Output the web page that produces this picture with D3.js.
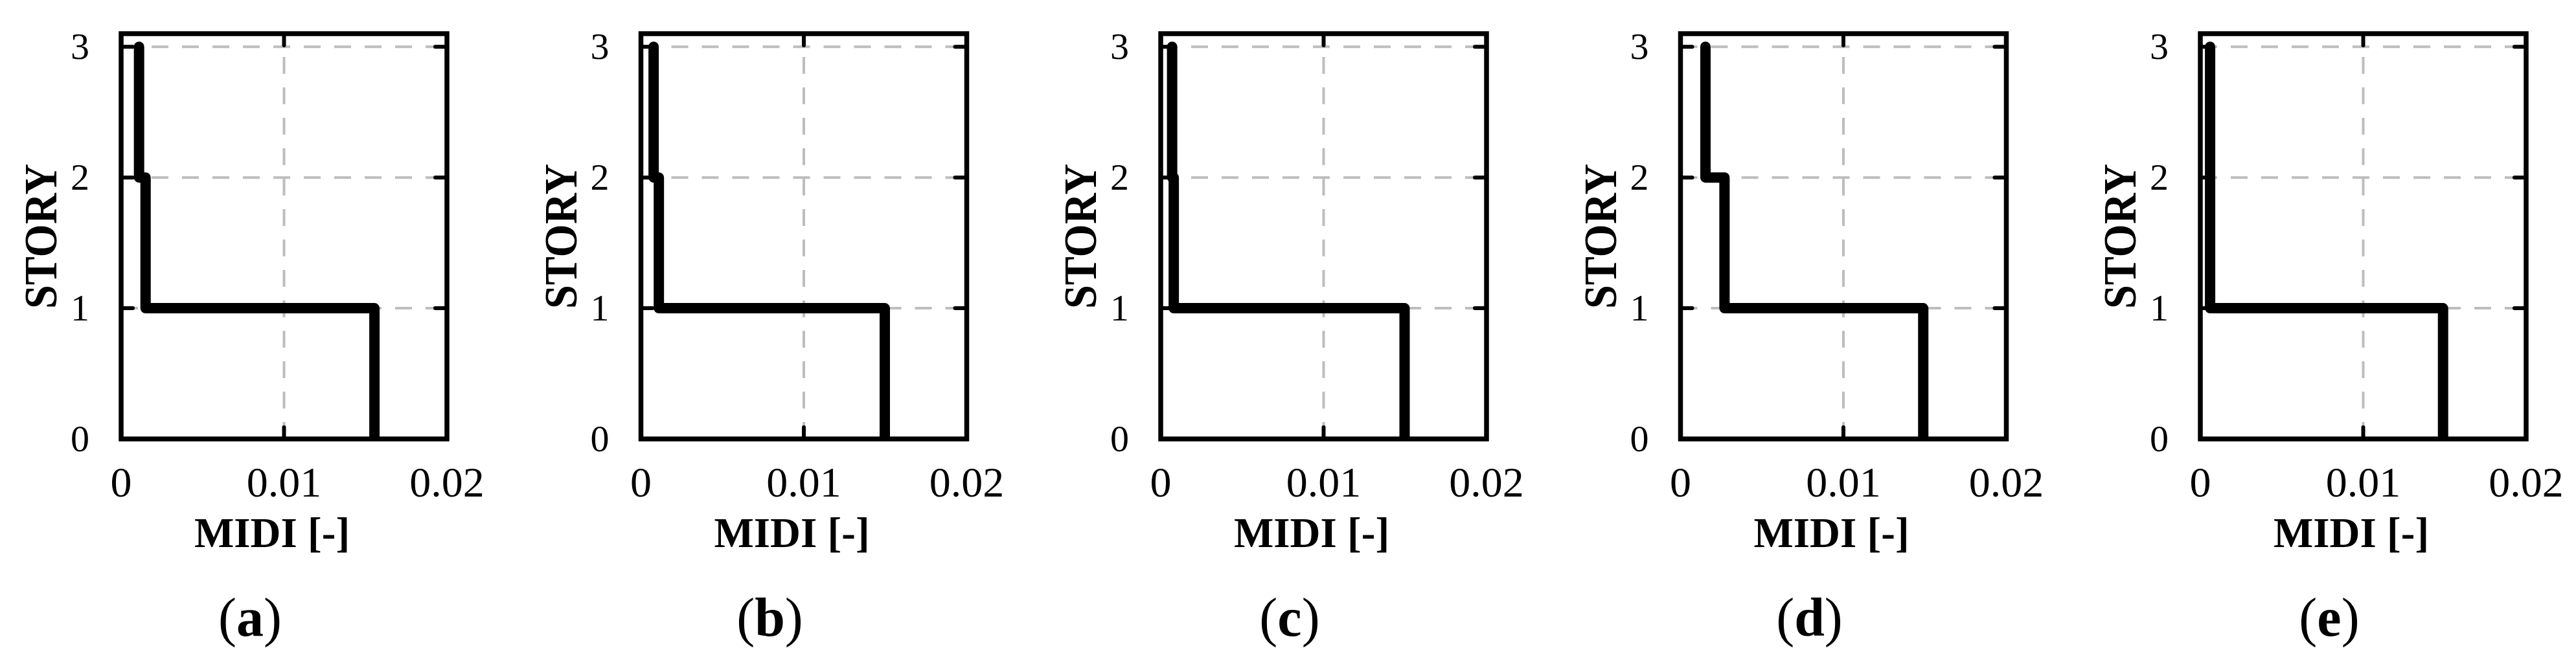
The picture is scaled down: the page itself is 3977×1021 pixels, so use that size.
<!DOCTYPE html>
<html>
<head>
<meta charset="utf-8">
<script src="https://cdn.jsdelivr.net/npm/d3@7"></script>
<style>
  html, body { margin: 0; padding: 0; background: #fff; }
  svg { display: block; }
  text { font-family: "Liberation Serif", "Times New Roman", Times, serif; fill: #000; }
</style>
</head>
<body>
<svg id="chart" width="3977" height="1021"></svg>
<script>
// ---- data ----
const panelLetters = ["a", "b", "c", "d", "e"];
const stories = [1, 2, 3];
// MIDI per story (story 1, story 2, story 3)
const midiA = [0.01555, 0.0015, 0.0011];
const midiB = [0.01497, 0.0011, 0.00078];
const midiC = [0.01497, 0.0008, 0.0007];
const midiD = [0.0149, 0.0027, 0.00153];
const midiE = [0.0149, 0.0006, 0.0006];
const series = [midiA, midiB, midiC, midiD, midiE];
const xTicks = [0, 0.01, 0.02];
const xTickLabels = ["0", "0.01", "0.02"];
const yTicks = [0, 1, 2, 3];
const yTickLabels = ["0", "1", "2", "3"];
const xLabel = "MIDI [-]";
const yLabel = "STORY";

// ---- layout ----
const firstLeft = 187, panelStep = 802.5, plotW = 503;
const plotTop = 52, plotBottom = 678;

const svg = d3.select("#chart");

series.forEach((vals, i) => {
  const left = firstLeft + i * panelStep;
  const x = d3.scaleLinear().domain([0, 0.02]).range([left, left + plotW]);
  const y = d3.scaleLinear().domain([0, 3.1]).range([plotBottom, plotTop]);
  const g = svg.append("g");

  // grid
  g.selectAll(".hgrid").data(yTicks.filter(t => t > 0)).enter().append("line")
    .attr("x1", x(0)).attr("x2", x(0.02))
    .attr("y1", d => y(d)).attr("y2", d => y(d))
    .attr("stroke", "#bdbdbd").attr("stroke-width", 4)
    .attr("stroke-dasharray", "26,21");
  g.selectAll(".vgrid").data(xTicks.filter(t => t > 0 && t < 0.02)).enter().append("line")
    .attr("x1", d => x(d)).attr("x2", d => x(d))
    .attr("y1", y(0)).attr("y2", y(3.1))
    .attr("stroke", "#bdbdbd").attr("stroke-width", 4)
    .attr("stroke-dasharray", "26,21");

  // step profile
  const pts = [];
  stories.forEach((s, k) => {
    pts.push([vals[k], s - 1]);
    pts.push([vals[k], s]);
  });
  const clipId = "clip" + i;
  svg.append("clipPath").attr("id", clipId).append("rect")
    .attr("x", x(0)).attr("y", y(3.1)).attr("width", plotW).attr("height", y(0) - y(3.1));
  g.append("path")
    .attr("clip-path", `url(#${clipId})`)
    .attr("d", d3.line().x(d => x(d[0])).y(d => y(d[1]))(pts))
    .attr("fill", "none").attr("stroke", "#000").attr("stroke-width", 16)
    .attr("stroke-linejoin", "round").attr("stroke-linecap", "round");

  // inward ticks
  const tl = 18;
  yTicks.filter(t => t > 0 && t < 3.1).forEach(t => {
    g.append("line").attr("x1", x(0)).attr("x2", x(0) + tl).attr("y1", y(t)).attr("y2", y(t))
      .attr("stroke", "#000").attr("stroke-width", 6).attr("stroke-linecap", "round");
    g.append("line").attr("x1", x(0.02)).attr("x2", x(0.02) - tl).attr("y1", y(t)).attr("y2", y(t))
      .attr("stroke", "#000").attr("stroke-width", 6).attr("stroke-linecap", "round");
  });
  xTicks.filter(t => t > 0 && t < 0.02).forEach(t => {
    g.append("line").attr("x1", x(t)).attr("x2", x(t)).attr("y1", y(0)).attr("y2", y(0) - tl)
      .attr("stroke", "#000").attr("stroke-width", 6).attr("stroke-linecap", "round");
    g.append("line").attr("x1", x(t)).attr("x2", x(t)).attr("y1", y(3.1)).attr("y2", y(3.1) + tl)
      .attr("stroke", "#000").attr("stroke-width", 6).attr("stroke-linecap", "round");
  });

  // frame
  g.append("rect")
    .attr("x", x(0)).attr("y", y(3.1)).attr("width", x(0.02) - x(0)).attr("height", y(0) - y(3.1))
    .attr("fill", "none").attr("stroke", "#000").attr("stroke-width", 7.5);

  // y tick labels
  yTicks.forEach((t, k) => {
    g.append("text")
      .attr("x", x(0) - 49).attr("y", y(t) + 19)
      .attr("text-anchor", "end").attr("font-size", 58)
      .text(yTickLabels[k]);
  });
  // x tick labels
  xTicks.forEach((t, k) => {
    g.append("text")
      .attr("x", x(t)).attr("y", y(0) + 89)
      .attr("text-anchor", "middle").attr("font-size", 66)
      .text(xTickLabels[k]);
  });
  // axis titles
  g.append("text")
    .attr("x", x(0) + 233).attr("y", y(0) + 167)
    .attr("text-anchor", "middle").attr("font-size", 65).attr("font-weight", "bold")
    .text(xLabel);
  g.append("text")
    .attr("transform", `translate(${x(0) - 100},${(y(0) + y(3.1)) / 2}) scale(1.1,1) rotate(-90)`)
    .attr("text-anchor", "middle").attr("font-size", 66).attr("font-weight", "bold")
    .text(yLabel);
  // caption
  const cap = g.append("text")
    .attr("x", x(0) + 199).attr("y", y(0) + 304)
    .attr("text-anchor", "middle").attr("font-size", 84);
  cap.append("tspan").text("(");
  cap.append("tspan").attr("font-weight", "bold").text(panelLetters[i]);
  cap.append("tspan").text(")");
});
</script>
</body>
</html>
